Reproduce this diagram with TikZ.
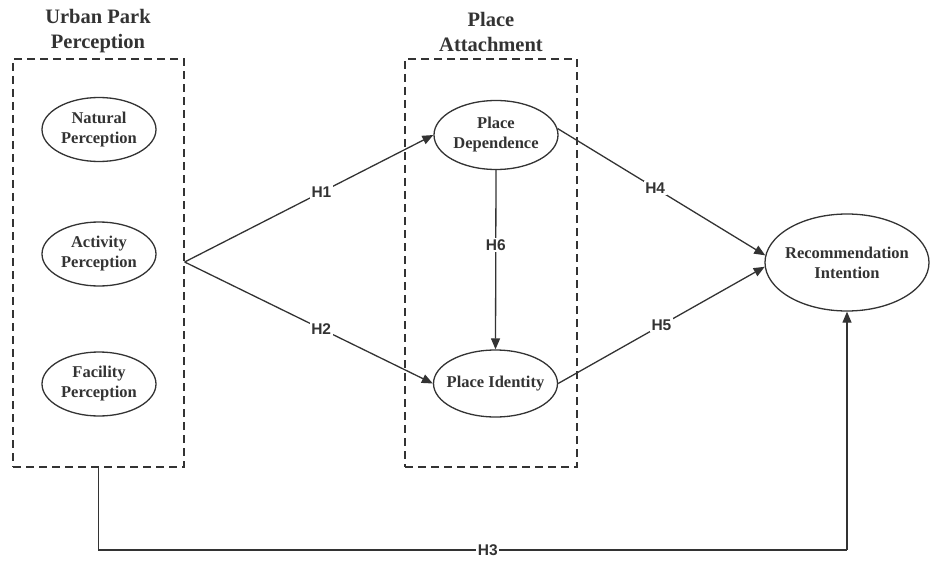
\documentclass[tikz,border=0pt]{standalone}
\usepackage{fontspec}
\setmainfont{Liberation Serif}
\newfontfamily\hfont{Liberation Sans}
\usetikzlibrary{arrows.meta,shapes.geometric}
\definecolor{ink}{HTML}{333333}
\tikzset{
  construct/.style={draw=ink, line width=1.3pt, ellipse, minimum width=114pt, minimum height=64pt, inner sep=0pt, align=center, font=\fontsize{16.5}{20}\selectfont\bfseries, text=ink},
  midconstruct/.style={construct, minimum width=124pt, minimum height=69pt},
  groupbox/.style={draw=ink, dashed, dash pattern=on 8pt off 5pt, line width=1.3pt},
  grouptitle/.style={align=center, font=\fontsize{20.5}{25}\selectfont\bfseries, text=ink},
  connline/.style={draw=ink, line width=1.3pt},
  arrowline/.style={connline, -{Triangle[length=11pt,width=9pt]}},
  hlabel/.style={fill=white, inner sep=1.5pt, font=\hfont\fontsize{15.5}{17}\selectfont\bfseries, text=ink}
}
\begin{document}
\begin{tikzpicture}[x=1pt,y=-1pt]
\useasboundingbox (0,0) rectangle (942,567);
% groups
\node[groupbox, minimum width=171pt, minimum height=408pt, inner sep=0pt] (g1) at (98.5,263) {};
\node[groupbox, minimum width=172pt, minimum height=408pt, inner sep=0pt] (g2) at (491,263) {};
\node[grouptitle] (t1) at (98,31.5) {Urban Park\\Perception};
\node[grouptitle] (t2) at (491,31.5) {Place\\Attachment};
% constructs
\node[construct] (nat) at (99,129.5) {Natural\\Perception};
\node[construct] (act) at (99,254) {Activity\\Perception};
\node[construct] (fac) at (99,384) {Facility\\Perception};
\node[midconstruct] (pd) at (496,135) {Place\\Dependence};
\node[midconstruct, minimum height=67pt, inner xsep=-7pt] (pi) at (495.5,383.5) {Place Identity};
\node[construct, minimum width=164pt, minimum height=97pt, inner xsep=-5pt] (rec) at (847,262.5) {Recommendation\\Intention};
% connectors
\coordinate (src) at (g1.east |- 0,262);
\draw[arrowline] (src) -- node[hlabel, pos=0.55] {H1} (pd.west);
\draw[arrowline] (src) -- node[hlabel, pos=0.55] {H2} (pi.west);
\draw[arrowline] (pd.south) -- node[hlabel, pos=0.42] {H6} (pi.north);
\draw[arrowline] (pd.6) -- node[hlabel, pos=0.47] {H4} (rec.175);
\draw[arrowline] (pi.east) -- node[hlabel, pos=0.5] {H5} (rec.183);
\coordinate (b1) at (g1.south |- 0,550);
\coordinate (b2) at (rec.south |- 0,550);
\draw[connline] (g1.south) -- (b1) -- node[hlabel, pos=0.52] {H3} (b2);
\draw[arrowline] (b2) -- (b2 |- rec.south);
\end{tikzpicture}
\end{document}
